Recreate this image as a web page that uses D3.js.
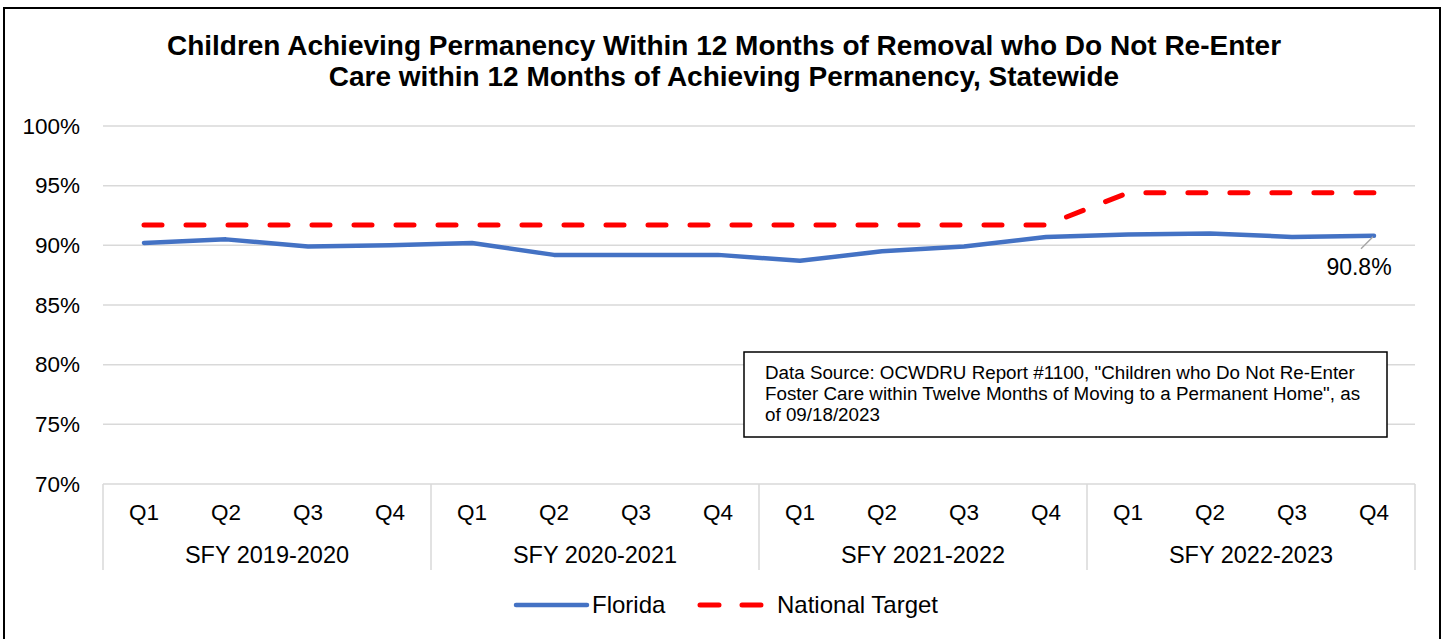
<!DOCTYPE html>
<html>
<head>
<meta charset="utf-8">
<script src="https://cdn.jsdelivr.net/npm/d3@7"></script>
<style>
  html, body { margin: 0; padding: 0; background: #fff; }
  svg { display: block; font-family: "Liberation Sans", Arial, sans-serif; }
</style>
</head>
<body>
<svg id="chart" width="1448" height="639"></svg>
<script>
// ---- data ----
const quarters = ["Q1","Q2","Q3","Q4","Q1","Q2","Q3","Q4","Q1","Q2","Q3","Q4","Q1","Q2","Q3","Q4"];
const fiscalYears = ["SFY 2019-2020","SFY 2020-2021","SFY 2021-2022","SFY 2022-2023"];
const florida = [90.2, 90.5, 89.9, 90.0, 90.2, 89.2, 89.2, 89.2, 88.7, 89.5, 89.9, 90.7, 90.9, 91.0, 90.7, 90.8];
const nationalTarget = [91.7, 91.7, 91.7, 91.7, 91.7, 91.7, 91.7, 91.7, 91.7, 91.7, 91.7, 91.7, 94.4, 94.4, 94.4, 94.4];
const yTicks = [70, 75, 80, 85, 90, 95, 100];
const titleLines = ["Children Achieving Permanency Within 12 Months of Removal who Do Not Re-Enter",
                    "Care within 12 Months of Achieving Permanency, Statewide"];
const sourceLines = ["Data Source: OCWDRU Report #1100, \"Children who Do Not Re-Enter",
                     "Foster Care within Twelve Months of Moving to a Permanent Home\", as",
                     "of 09/18/2023"];
const seriesNames = ["Florida", "National Target"];

(function () {
// ---- layout ----
const svg = d3.select("#chart");
const pLeft = 103, pRight = 1415, pTop = 126, pBottom = 484;
const idx = d3.range(quarters.length);
const x = d3.scaleBand().domain(idx).range([pLeft, pRight]).padding(0);
const cx = i => x(i) + x.bandwidth() / 2;
const y = d3.scaleLinear().domain([70, 100]).range([pBottom, pTop]);
const grid = "#d9d9d9";
const blue = "#4472C4", red = "#FF0000";

// outer border
svg.append("rect").attr("x", 4).attr("y", 8).attr("width", 1436).attr("height", 660)
  .attr("fill", "none").attr("stroke", "#000").attr("stroke-width", 2);

// title
svg.append("g").selectAll("text").data(titleLines).join("text")
  .attr("x", 724).attr("y", (d, i) => 55 + i * 31)
  .attr("text-anchor", "middle").attr("font-weight", "bold").attr("font-size", 28)
  .attr("fill", "#000").text(d => d);

// gridlines
svg.append("g").selectAll("line").data(yTicks.filter(t => t > 70)).join("line")
  .attr("x1", pLeft).attr("x2", pRight).attr("y1", d => y(d)).attr("y2", d => y(d))
  .attr("stroke", grid).attr("stroke-width", 1.5);

// y axis labels
const yAxis = d3.axisLeft(y).tickValues(yTicks).tickFormat(d => d + "%").tickSize(0).tickPadding(0);
const yg = svg.append("g").attr("transform", `translate(80,0)`).call(yAxis);
yg.select(".domain").remove();
yg.selectAll("text").attr("font-size", 22.5).attr("fill", "#000")
  .attr("font-family", "Liberation Sans, Arial, sans-serif");

// category axis
svg.append("line").attr("x1", pLeft).attr("x2", pRight).attr("y1", pBottom).attr("y2", pBottom)
  .attr("stroke", grid).attr("stroke-width", 1.5);
const seps = [0, 4, 8, 12, 16];
svg.append("g").selectAll("line").data(seps).join("line")
  .attr("x1", d => d < 16 ? x(d) : pRight).attr("x2", d => d < 16 ? x(d) : pRight)
  .attr("y1", pBottom).attr("y2", 570)
  .attr("stroke", grid).attr("stroke-width", 1.5);

const xAxis = d3.axisBottom(x).tickFormat(i => quarters[i]).tickSize(0).tickPadding(0);
const xg = svg.append("g").attr("transform", `translate(0,${pBottom})`).call(xAxis);
xg.select(".domain").remove();
xg.selectAll("text").attr("font-size", 22.5).attr("fill", "#000").attr("dy", null)
  .attr("y", 36).attr("font-family", "Liberation Sans, Arial, sans-serif");

svg.append("g").selectAll("text").data(fiscalYears).join("text")
  .attr("x", (d, i) => (x(i * 4) + x(i * 4 + 3) + x.bandwidth()) / 2)
  .attr("y", 563).attr("text-anchor", "middle").attr("font-size", 23.5).attr("fill", "#000")
  .text(d => d);

// lines
const lineGen = d3.line().x((d, i) => cx(i)).y(d => y(d));
svg.append("path").datum(nationalTarget).attr("d", lineGen)
  .attr("fill", "none").attr("stroke", red).attr("stroke-width", 5)
  .attr("stroke-dasharray", "18,24").attr("stroke-linecap", "round").attr("stroke-linejoin", "round");
svg.append("path").datum(florida).attr("d", lineGen)
  .attr("fill", "none").attr("stroke", blue).attr("stroke-width", 4.5)
  .attr("stroke-linecap", "round").attr("stroke-linejoin", "round");

// data label for last point
const li = florida.length - 1;
svg.append("line").attr("x1", cx(li) - 1).attr("y1", y(florida[li]) + 1)
  .attr("x2", cx(li) - 13).attr("y2", y(florida[li]) + 13)
  .attr("stroke", "#a6a6a6").attr("stroke-width", 1.5);
svg.append("text").attr("x", cx(li) - 15).attr("y", y(florida[li]) + 39)
  .attr("text-anchor", "middle").attr("font-size", 23).attr("fill", "#000")
  .text(florida[li].toFixed(1) + "%");

// data source box
svg.append("rect").attr("x", 744).attr("y", 352).attr("width", 643).attr("height", 85)
  .attr("fill", "#fff").attr("stroke", "#000").attr("stroke-width", 1.5);
svg.append("g").selectAll("text").data(sourceLines).join("text")
  .attr("x", 765).attr("y", (d, i) => 379 + i * 21)
  .attr("font-size", 18.8).attr("fill", "#000").text(d => d);

// legend
const lg = svg.append("g");
lg.append("line").attr("x1", 516).attr("x2", 587).attr("y1", 605).attr("y2", 605)
  .attr("stroke", blue).attr("stroke-width", 4.5).attr("stroke-linecap", "round");
lg.append("text").attr("x", 592).attr("y", 613).attr("font-size", 24).text(seriesNames[0]);
lg.append("line").attr("x1", 700).attr("x2", 765).attr("y1", 605).attr("y2", 605)
  .attr("stroke", red).attr("stroke-width", 5).attr("stroke-linecap", "round")
  .attr("stroke-dasharray", "19,23");
lg.append("text").attr("x", 777).attr("y", 613).attr("font-size", 24).text(seriesNames[1]);
})();
</script>
</body>
</html>
